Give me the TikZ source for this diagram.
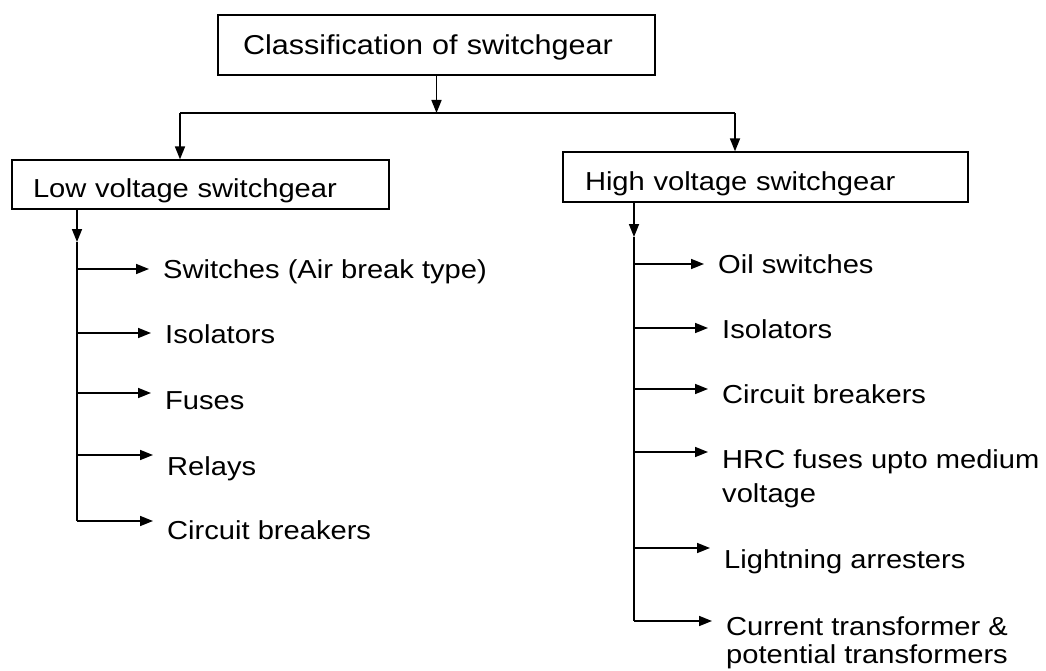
\documentclass[tikz,border=0pt]{standalone}
\usepackage{fontspec}
\setmainfont{Liberation Sans}[FakeStretch=1.12]
\usetikzlibrary{arrows.meta}
\begin{document}
\begin{tikzpicture}[x=1pt,y=-1pt,
  txt/.style={font=\fontsize{26}{31}\selectfont},
  box/.style={draw, line width=1.3pt, inner ysep=0pt, align=left},
  item/.style={txt, inner sep=0pt, anchor=base west, align=left},
  conn/.style={line width=1.7pt},
  arr/.style={conn, -{Triangle[length=13pt,width=10pt]}},
]
\useasboundingbox (0,0) rectangle (1046,671);

% boxes
\node[box, font=\fontsize{27.3}{31}\selectfont, minimum width=437pt, minimum height=60pt, inner xsep=25pt, text width=387pt] (top) at (436.5,45) {\rule{0pt}{24pt}Classification of switchgear};
\node[box, txt, minimum width=377pt, minimum height=49pt, inner xsep=21pt, text width=335pt] (low) at (200.5,184.5) {\rule{0pt}{32pt}Low voltage switchgear};
\node[box, txt, minimum width=405pt, minimum height=50pt, inner xsep=22pt, text width=361pt] (high) at (765.5,177) {\rule{0pt}{31.5pt}High voltage switchgear};

% top junction
\coordinate (jl) at (180,113);
\coordinate (jr) at (735,113);
\draw[arr] (top.south) -- (top.south |- jl);
\draw[conn] (jl) -- (jr);
\draw[arr] (jl) -- (jl |- low.north);
\draw[arr] (jr) -- (jr |- high.north);

% low voltage branch
\coordinate (lvm) at (77,242);
\coordinate (lvend) at (77,521);
\draw[arr] (lvm |- low.south) -- (lvm);
\draw[conn] (lvm) -- (lvend);

\node[item] (l1) at (163,278) {Switches (Air break type)};
\node[item] (l2) at (165,343) {Isolators};
\node[item] (l3) at (165,409) {Fuses};
\node[item] (l4) at (167,475) {Relays};
\node[item] (l5) at (167,539) {Circuit breakers};

\coordinate (la1) at (77,269);
\coordinate (la2) at (77,333);
\coordinate (la3) at (77,393);
\coordinate (la4) at (77,455);
\coordinate (la5) at (77,521);
\foreach \i in {1,...,5}{
  \draw[arr] (la\i) -- ([xshift=-14pt]la\i -| l\i.west);
}

% high voltage branch
\coordinate (hvm) at (634,237);
\coordinate (hvend) at (634,621);
\draw[arr] (hvm |- high.south) -- (hvm);
\draw[conn] (hvm) -- (hvend);

\node[item] (h1) at (718,273) {Oil switches};
\node[item] (h2) at (722,338) {Isolators};
\node[item] (h3) at (722,403) {Circuit breakers};
\node[item, anchor=north west] (h4) at (722,449) {HRC fuses upto medium\\[3pt]voltage};
\node[item] (h5) at (724,568) {Lightning arresters};
\node[item, anchor=north west] (h6) at (726,616) {Current transformer \&\\[-3pt]potential transformers};

\coordinate (ha1) at (634,264);
\coordinate (ha2) at (634,328);
\coordinate (ha3) at (634,389);
\coordinate (ha4) at (634,452);
\coordinate (ha5) at (634,548);
\coordinate (ha6) at (634,621);
\foreach \i in {1,...,6}{
  \draw[arr] (ha\i) -- ([xshift=-14pt]ha\i -| h\i.west);
}
\end{tikzpicture}
\end{document}
